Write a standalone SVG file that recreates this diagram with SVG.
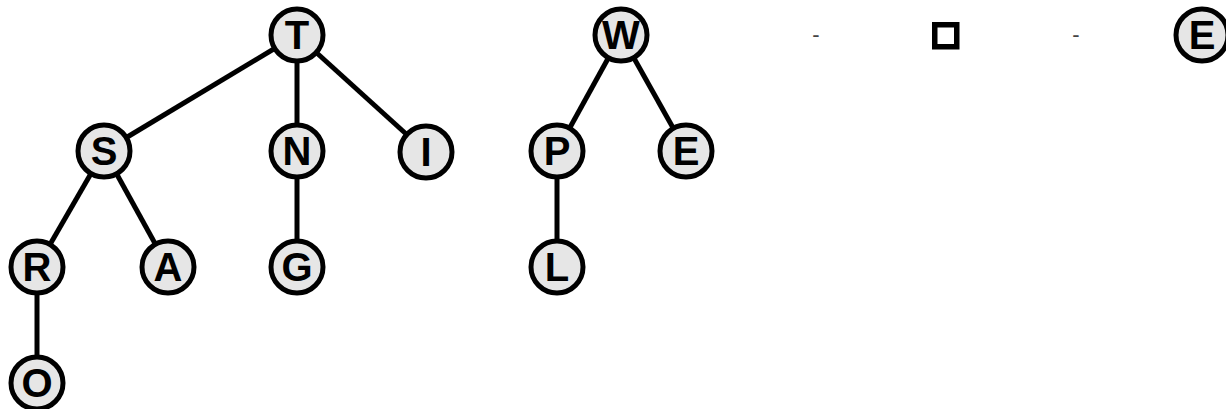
<svg xmlns="http://www.w3.org/2000/svg" width="1226" height="409" viewBox="0 0 1226 409">
<style>
.edge{stroke:#000;stroke-width:5;fill:none}
.node circle{fill:#e6e6e6;stroke:#000;stroke-width:5}
.node text{font-family:"Liberation Sans",Arial,sans-serif;font-weight:bold;font-size:40px;text-anchor:middle;fill:#000}
.dash{font-family:"Liberation Sans",Arial,sans-serif;font-size:22px;fill:#444;text-anchor:middle}
</style>
<rect width="1226" height="409" fill="#fff"/>
<g id="connectors">
<line class="edge" x1="297" y1="35" x2="104" y2="151"/>
<line class="edge" x1="297" y1="35" x2="297" y2="151"/>
<line class="edge" x1="297" y1="35" x2="426" y2="152"/>
<line class="edge" x1="104" y1="151" x2="37" y2="267"/>
<line class="edge" x1="104" y1="151" x2="168" y2="267"/>
<line class="edge" x1="297" y1="151" x2="297" y2="267"/>
<line class="edge" x1="37" y1="267" x2="37" y2="383"/>
<line class="edge" x1="621" y1="35" x2="557" y2="151"/>
<line class="edge" x1="621" y1="35" x2="686" y2="151"/>
<line class="edge" x1="557" y1="151" x2="557" y2="267"/>
</g>
<g id="node-T" class="node"><circle cx="297" cy="35" r="26"/><text x="297" y="49.3">T</text></g>
<g id="node-S" class="node"><circle cx="104" cy="151" r="26"/><text x="104" y="165.3">S</text></g>
<g id="node-N" class="node"><circle cx="297" cy="151" r="26"/><text x="297" y="165.3">N</text></g>
<g id="node-I" class="node"><circle cx="426" cy="152" r="26"/><text x="426" y="166.3">I</text></g>
<g id="node-R" class="node"><circle cx="37" cy="267" r="26"/><text x="37" y="281.3">R</text></g>
<g id="node-A" class="node"><circle cx="168" cy="267" r="26"/><text x="168" y="281.3">A</text></g>
<g id="node-G" class="node"><circle cx="297" cy="267" r="26"/><text x="297" y="281.3">G</text></g>
<g id="node-O" class="node"><circle cx="37" cy="383" r="26"/><text x="37" y="397.3">O</text></g>
<g id="node-W" class="node"><circle cx="621" cy="35" r="26"/><text x="621" y="49.3">W</text></g>
<g id="node-P" class="node"><circle cx="557" cy="151" r="26"/><text x="557" y="165.3">P</text></g>
<g id="node-E1" class="node"><circle cx="686" cy="151" r="26"/><text x="686" y="165.3">E</text></g>
<g id="node-L" class="node"><circle cx="557" cy="267" r="26"/><text x="557" y="281.3">L</text></g>
<g id="node-E2" class="node"><circle cx="1202" cy="35" r="26"/><text x="1202" y="49.3">E</text></g>
<g id="legend">
<text class="dash" x="816" y="42">-</text>
<rect x="934.75" y="24.75" width="22" height="22" fill="#fff" stroke="#000" stroke-width="5.5"/>
<text class="dash" x="1076" y="42">-</text>
</g>
</svg>
